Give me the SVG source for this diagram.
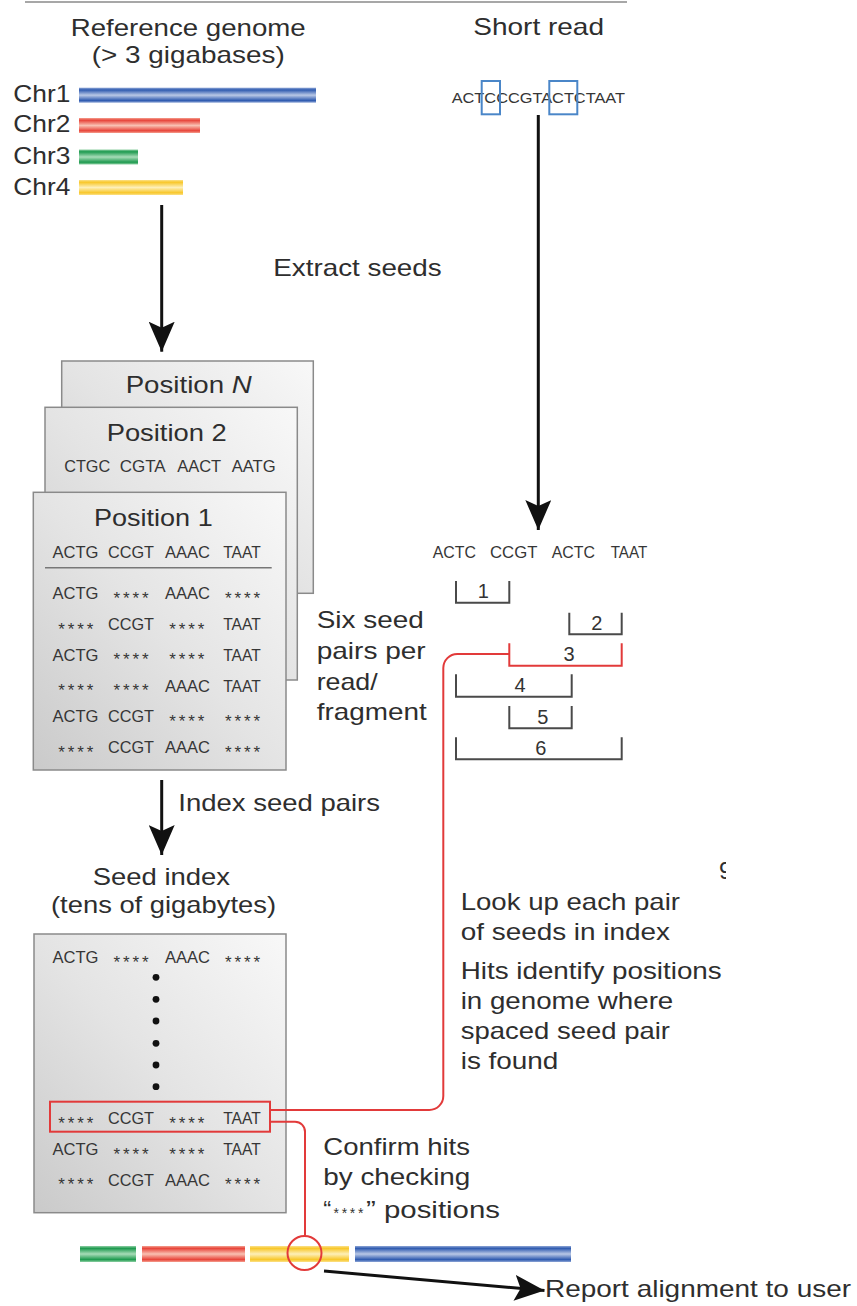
<svg xmlns="http://www.w3.org/2000/svg" width="857" height="1306" viewBox="0 0 857 1306">
  <style>
    .t { font-family: "Liberation Sans", Arial, Helvetica, sans-serif; font-size: 24px; fill: #2e2e2e; }
    .s { font-family: "Liberation Sans", Arial, Helvetica, sans-serif; font-size: 16px; fill: #363636; text-anchor: middle; }
    .a { font-family: "Liberation Sans", Arial, Helvetica, sans-serif; font-size: 17px; fill: #363636; text-anchor: middle; transform: translateY(1.5px); }
    .n { font-family: "Liberation Sans", Arial, Helvetica, sans-serif; font-size: 20px; fill: #333; text-anchor: middle; }
    .card { fill: url(#cardFill); stroke: #8a8a8a; stroke-width: 1.5; }
    .brk { fill: none; stroke: #4a4a4a; stroke-width: 2; }
    .red { fill: none; stroke: #e23a3a; stroke-width: 2; }
    .blk { fill: none; stroke: #111; stroke-width: 3; }
  </style>
  <defs>
    <linearGradient id="cardFill" x1="0" y1="1" x2="1" y2="0">
      <stop offset="0" stop-color="#cacaca"/>
      <stop offset="0.5" stop-color="#e4e4e4"/>
      <stop offset="1" stop-color="#f8f8f8"/>
    </linearGradient>
    <linearGradient id="gBlue" x1="0" y1="0" x2="0" y2="1">
      <stop offset="0" stop-color="#8ea6d6"/>
      <stop offset="0.15" stop-color="#2f5bb0"/>
      <stop offset="0.5" stop-color="#b9c8e6"/>
      <stop offset="0.85" stop-color="#2f5bb0"/>
      <stop offset="1" stop-color="#8ea6d6"/>
    </linearGradient>
    <linearGradient id="gRed" x1="0" y1="0" x2="0" y2="1">
      <stop offset="0" stop-color="#f4a090"/>
      <stop offset="0.15" stop-color="#e8443a"/>
      <stop offset="0.5" stop-color="#f9c0b2"/>
      <stop offset="0.85" stop-color="#e8443a"/>
      <stop offset="1" stop-color="#f4a090"/>
    </linearGradient>
    <linearGradient id="gGreen" x1="0" y1="0" x2="0" y2="1">
      <stop offset="0" stop-color="#8fd0a4"/>
      <stop offset="0.15" stop-color="#1e9a4f"/>
      <stop offset="0.5" stop-color="#a8dcb8"/>
      <stop offset="0.85" stop-color="#1e9a4f"/>
      <stop offset="1" stop-color="#8fd0a4"/>
    </linearGradient>
    <linearGradient id="gYellow" x1="0" y1="0" x2="0" y2="1">
      <stop offset="0" stop-color="#fbe18a"/>
      <stop offset="0.15" stop-color="#f8c72a"/>
      <stop offset="0.5" stop-color="#fdefb8"/>
      <stop offset="0.85" stop-color="#f8c72a"/>
      <stop offset="1" stop-color="#fbe18a"/>
    </linearGradient>
    <marker id="head" viewBox="0 0 30 26" refX="30" refY="13" markerWidth="30" markerHeight="26" markerUnits="userSpaceOnUse" orient="auto">
      <path d="M0,0 L30,13 L0,26 L6,13 Z" fill="#111"/>
    </marker>
    <clipPath id="edgeClip">
      <rect x="719" y="860" width="7" height="25"/>
    </clipPath>
  </defs>

  <rect width="857" height="1306" fill="#fff"/>

  <!-- header rule -->
  <line x1="25" y1="2" x2="627" y2="2" stroke="#8a8a8a" stroke-width="1.5"/>

  <!-- reference genome -->
  <g id="reference-genome">
    <text class="t" x="70.7" y="36" textLength="235" lengthAdjust="spacingAndGlyphs">Reference genome</text>
    <text class="t" x="91.7" y="63" textLength="193" lengthAdjust="spacingAndGlyphs">(&gt; 3 gigabases)</text>
    <text class="t" x="13.3" y="101.7" textLength="57" lengthAdjust="spacingAndGlyphs">Chr1</text>
    <text class="t" x="13.3" y="132.3" textLength="57" lengthAdjust="spacingAndGlyphs">Chr2</text>
    <text class="t" x="13.3" y="164" textLength="57" lengthAdjust="spacingAndGlyphs">Chr3</text>
    <text class="t" x="13.3" y="195" textLength="57" lengthAdjust="spacingAndGlyphs">Chr4</text>
    <rect x="79" y="87.7" width="237" height="15" fill="url(#gBlue)"/>
    <rect x="79" y="118" width="121" height="15" fill="url(#gRed)"/>
    <rect x="79" y="149.5" width="59" height="15" fill="url(#gGreen)"/>
    <rect x="79" y="180" width="104" height="15" fill="url(#gYellow)"/>
  </g>

  <!-- short read -->
  <g id="short-read">
    <text class="t" x="473.3" y="35" textLength="130.7" lengthAdjust="spacingAndGlyphs">Short read</text>
    <text x="451.7" y="103.3" font-family="Liberation Sans, Arial, sans-serif" font-size="15.5" fill="#363636" textLength="173.3" lengthAdjust="spacingAndGlyphs">ACTCCCGTACTCTAAT</text>
    <rect x="481.7" y="81" width="18.3" height="33.3" fill="none" stroke="#4a86c8" stroke-width="2"/>
    <rect x="549.3" y="81" width="28" height="33.3" fill="none" stroke="#4a86c8" stroke-width="2"/>
  </g>

  <text id="extract-label" class="t" x="273.3" y="276" textLength="168.4" lengthAdjust="spacingAndGlyphs">Extract seeds</text>

  <!-- seed position cards -->
  <g id="card-n">
    <rect class="card" x="61.7" y="361" width="251.6" height="232.3"/>
    <text class="t" x="125.7" y="393.3" textLength="126" lengthAdjust="spacingAndGlyphs">Position <tspan font-style="italic">N</tspan></text>
  </g>
  <g id="card-2">
    <rect class="card" x="45" y="407.3" width="252.3" height="272.7"/>
    <text class="t" x="106.7" y="440.7" textLength="120" lengthAdjust="spacingAndGlyphs">Position 2</text>
    <text class="s" x="87.2" y="471.7" textLength="46" lengthAdjust="spacingAndGlyphs">CTGC</text>
    <text class="s" x="142.7" y="471.7" textLength="46" lengthAdjust="spacingAndGlyphs">CGTA</text>
    <text class="s" x="199.2" y="471.7" textLength="44" lengthAdjust="spacingAndGlyphs">AACT</text>
    <text class="s" x="253.7" y="471.7" textLength="44" lengthAdjust="spacingAndGlyphs">AATG</text>
  </g>
  <g id="card-1">
    <rect class="card" x="33.3" y="492.3" width="252.7" height="277.7"/>
    <text class="t" x="94" y="526" textLength="118.7" lengthAdjust="spacingAndGlyphs">Position 1</text>
    <text class="s" x="75.5" y="558.3" textLength="46" lengthAdjust="spacingAndGlyphs">ACTG</text>
    <text class="s" x="131" y="558.3" textLength="46" lengthAdjust="spacingAndGlyphs">CCGT</text>
    <text class="s" x="187.5" y="558.3" textLength="45" lengthAdjust="spacingAndGlyphs">AAAC</text>
    <text class="s" x="242" y="558.3" textLength="37.5" lengthAdjust="spacingAndGlyphs">TAAT</text>
    <line x1="45" y1="567.8" x2="271.7" y2="567.8" stroke="#777" stroke-width="1.5"/>
    <!-- six spaced seed pairs -->
    <text class="s" x="75.5" y="599.3" textLength="46" lengthAdjust="spacingAndGlyphs">ACTG</text>
    <text class="a" x="131" y="602.3" textLength="35" lengthAdjust="spacing">****</text>
    <text class="s" x="187.5" y="599.3" textLength="45" lengthAdjust="spacingAndGlyphs">AAAC</text>
    <text class="a" x="242.5" y="602.3" textLength="35" lengthAdjust="spacing">****</text>

    <text class="a" x="75.8" y="633" textLength="35" lengthAdjust="spacing">****</text>
    <text class="s" x="131" y="630" textLength="46" lengthAdjust="spacingAndGlyphs">CCGT</text>
    <text class="a" x="186.8" y="633" textLength="35" lengthAdjust="spacing">****</text>
    <text class="s" x="242" y="630" textLength="37.5" lengthAdjust="spacingAndGlyphs">TAAT</text>

    <text class="s" x="75.5" y="660.7" textLength="46" lengthAdjust="spacingAndGlyphs">ACTG</text>
    <text class="a" x="131" y="663.7" textLength="35" lengthAdjust="spacing">****</text>
    <text class="a" x="186.8" y="663.7" textLength="35" lengthAdjust="spacing">****</text>
    <text class="s" x="242" y="660.7" textLength="37.5" lengthAdjust="spacingAndGlyphs">TAAT</text>

    <text class="a" x="75.8" y="694.7" textLength="35" lengthAdjust="spacing">****</text>
    <text class="a" x="131" y="694.7" textLength="35" lengthAdjust="spacing">****</text>
    <text class="s" x="187.5" y="691.7" textLength="45" lengthAdjust="spacingAndGlyphs">AAAC</text>
    <text class="s" x="242" y="691.7" textLength="37.5" lengthAdjust="spacingAndGlyphs">TAAT</text>

    <text class="s" x="75.5" y="722.3" textLength="46" lengthAdjust="spacingAndGlyphs">ACTG</text>
    <text class="s" x="131" y="722.3" textLength="46" lengthAdjust="spacingAndGlyphs">CCGT</text>
    <text class="a" x="186.8" y="725.3" textLength="35" lengthAdjust="spacing">****</text>
    <text class="a" x="242.5" y="725.3" textLength="35" lengthAdjust="spacing">****</text>

    <text class="a" x="75.8" y="756.3" textLength="35" lengthAdjust="spacing">****</text>
    <text class="s" x="131" y="753.3" textLength="46" lengthAdjust="spacingAndGlyphs">CCGT</text>
    <text class="s" x="187.5" y="753.3" textLength="45" lengthAdjust="spacingAndGlyphs">AAAC</text>
    <text class="a" x="242.5" y="756.3" textLength="35" lengthAdjust="spacing">****</text>
  </g>

  <g id="six-seed-label">
    <text class="t" x="316.7" y="628.3" textLength="107" lengthAdjust="spacingAndGlyphs">Six seed</text>
    <text class="t" x="316.7" y="659" textLength="109" lengthAdjust="spacingAndGlyphs">pairs per</text>
    <text class="t" x="316.7" y="689.7" textLength="61" lengthAdjust="spacingAndGlyphs">read/</text>
    <text class="t" x="316.7" y="720.3" textLength="110" lengthAdjust="spacingAndGlyphs">fragment</text>
  </g>

  <!-- read split into four seeds with pair brackets -->
  <g id="read-seeds">
    <text class="s" x="454.3" y="558.3" textLength="43.3" lengthAdjust="spacingAndGlyphs">ACTC</text>
    <text class="s" x="513.7" y="558.3" textLength="47.3" lengthAdjust="spacingAndGlyphs">CCGT</text>
    <text class="s" x="573.3" y="558.3" textLength="43.3" lengthAdjust="spacingAndGlyphs">ACTC</text>
    <text class="s" x="629" y="558.3" textLength="36.6" lengthAdjust="spacingAndGlyphs">TAAT</text>
  </g>
  <g id="pair-1">
    <path class="brk" d="M456,581 V602.7 H509.3 V581"/>
    <text class="n" x="483.3" y="598.3">1</text>
  </g>
  <g id="pair-2">
    <path class="brk" d="M569.3,612.7 V634.3 H621.7 V612.7"/>
    <text class="n" x="596.7" y="630">2</text>
  </g>
  <g id="pair-3">
    <path class="red" d="M509.3,643.3 V665.7 H621.7 V643.3"/>
    <text class="n" x="569" y="661">3</text>
  </g>
  <g id="pair-4">
    <path class="brk" d="M456,674.3 V696.7 H571.7 V674.3"/>
    <text class="n" x="520" y="692.3">4</text>
  </g>
  <g id="pair-5">
    <path class="brk" d="M509.3,706 V728.3 H571.7 V706"/>
    <text class="n" x="542.7" y="724">5</text>
  </g>
  <g id="pair-6">
    <path class="brk" d="M456,737.3 V759.3 H621.7 V737.3"/>
    <text class="n" x="540.7" y="755">6</text>
  </g>

  <text id="index-label" class="t" x="178.3" y="811" textLength="201.7" lengthAdjust="spacingAndGlyphs">Index seed pairs</text>

  <!-- seed index -->
  <g id="seed-index">
    <text class="t" x="92.7" y="885" textLength="137.3" lengthAdjust="spacingAndGlyphs">Seed index</text>
    <text class="t" x="51" y="913.3" textLength="225" lengthAdjust="spacingAndGlyphs">(tens of gigabytes)</text>
    <rect class="card" x="34" y="934" width="252" height="278.7"/>
    <text class="s" x="75.5" y="963.3" textLength="46" lengthAdjust="spacingAndGlyphs">ACTG</text>
    <text class="a" x="131" y="966.3" textLength="35" lengthAdjust="spacing">****</text>
    <text class="s" x="187.5" y="963.3" textLength="45" lengthAdjust="spacingAndGlyphs">AAAC</text>
    <text class="a" x="242.5" y="966.3" textLength="35" lengthAdjust="spacing">****</text>
    <g fill="#111">
      <circle cx="156" cy="977.3" r="3.4"/>
      <circle cx="156" cy="999.3" r="3.4"/>
      <circle cx="156" cy="1021" r="3.4"/>
      <circle cx="156" cy="1043.3" r="3.4"/>
      <circle cx="156" cy="1065" r="3.4"/>
      <circle cx="156" cy="1086.7" r="3.4"/>
    </g>
    <rect class="red" x="50" y="1101.7" width="220" height="30"/>
    <text class="a" x="75.8" y="1127" textLength="35" lengthAdjust="spacing">****</text>
    <text class="s" x="131" y="1124" textLength="46" lengthAdjust="spacingAndGlyphs">CCGT</text>
    <text class="a" x="186.8" y="1127" textLength="35" lengthAdjust="spacing">****</text>
    <text class="s" x="242" y="1124" textLength="37.5" lengthAdjust="spacingAndGlyphs">TAAT</text>

    <text class="s" x="75.5" y="1155" textLength="46" lengthAdjust="spacingAndGlyphs">ACTG</text>
    <text class="a" x="131" y="1158" textLength="35" lengthAdjust="spacing">****</text>
    <text class="a" x="186.8" y="1158" textLength="35" lengthAdjust="spacing">****</text>
    <text class="s" x="242" y="1155" textLength="37.5" lengthAdjust="spacingAndGlyphs">TAAT</text>

    <text class="a" x="75.8" y="1188.7" textLength="35" lengthAdjust="spacing">****</text>
    <text class="s" x="131" y="1185.7" textLength="46" lengthAdjust="spacingAndGlyphs">CCGT</text>
    <text class="s" x="187.5" y="1185.7" textLength="45" lengthAdjust="spacingAndGlyphs">AAAC</text>
    <text class="a" x="242.5" y="1188.7" textLength="35" lengthAdjust="spacing">****</text>
  </g>

  <!-- lookup notes -->
  <g id="lookup-notes">
    <text class="t" x="460.7" y="910" textLength="219.3" lengthAdjust="spacingAndGlyphs">Look up each pair</text>
    <text class="t" x="460.7" y="940" textLength="209.3" lengthAdjust="spacingAndGlyphs">of seeds in index</text>
    <text class="t" x="460.7" y="979.3" textLength="261" lengthAdjust="spacingAndGlyphs">Hits identify positions</text>
    <text class="t" x="460.7" y="1009.3" textLength="212.6" lengthAdjust="spacingAndGlyphs">in genome where</text>
    <text class="t" x="460.7" y="1039.3" textLength="209.3" lengthAdjust="spacingAndGlyphs">spaced seed pair</text>
    <text class="t" x="460.7" y="1069.3" textLength="97.7" lengthAdjust="spacingAndGlyphs">is found</text>
    <text class="t" x="719" y="879" font-size="14" clip-path="url(#edgeClip)">9</text>
  </g>

  <g id="confirm-notes">
    <text class="t" x="323.3" y="1155" textLength="146.7" lengthAdjust="spacingAndGlyphs">Confirm hits</text>
    <text class="t" x="323.3" y="1185" textLength="147" lengthAdjust="spacingAndGlyphs">by checking</text>
    <text class="t" x="323.3" y="1218.3">“</text>
    <text x="333.5" y="1218.3" font-family="Liberation Sans, Arial, sans-serif" font-size="14" fill="#333" textLength="30" lengthAdjust="spacing">****</text>
    <text class="t" x="366" y="1218.3" textLength="134" lengthAdjust="spacingAndGlyphs">” positions</text>
  </g>

  <!-- genome laid end to end -->
  <g id="genome-strip">
    <rect x="80" y="1246" width="56" height="16" fill="url(#gGreen)"/>
    <rect x="142" y="1246" width="103" height="16" fill="url(#gRed)"/>
    <rect x="250" y="1246" width="99" height="16" fill="url(#gYellow)"/>
    <rect x="355" y="1246" width="216" height="16" fill="url(#gBlue)"/>
    <circle class="red" cx="304.5" cy="1253" r="17"/>
  </g>

  <text id="report-label" class="t" x="545" y="1297" textLength="306" lengthAdjust="spacingAndGlyphs">Report alignment to user</text>

  <!-- connectors -->
  <g id="connectors">
    <line class="blk" x1="161.7" y1="205" x2="161.7" y2="351.7" marker-end="url(#head)"/>
    <line class="blk" x1="538.3" y1="115" x2="538.3" y2="530" marker-end="url(#head)"/>
    <line class="blk" x1="161.7" y1="780" x2="161.7" y2="855" marker-end="url(#head)"/>
    <line class="blk" x1="324" y1="1271" x2="544.5" y2="1290.5" marker-end="url(#head)"/>
    <path class="red" d="M509.3,654 H457.3 A14,14 0 0 0 443.3,668 V1096 A14,14 0 0 1 429.3,1110 H270"/>
    <path class="red" d="M270,1121.7 H295 A10,10 0 0 1 305,1131.7 V1236"/>
  </g>
</svg>
